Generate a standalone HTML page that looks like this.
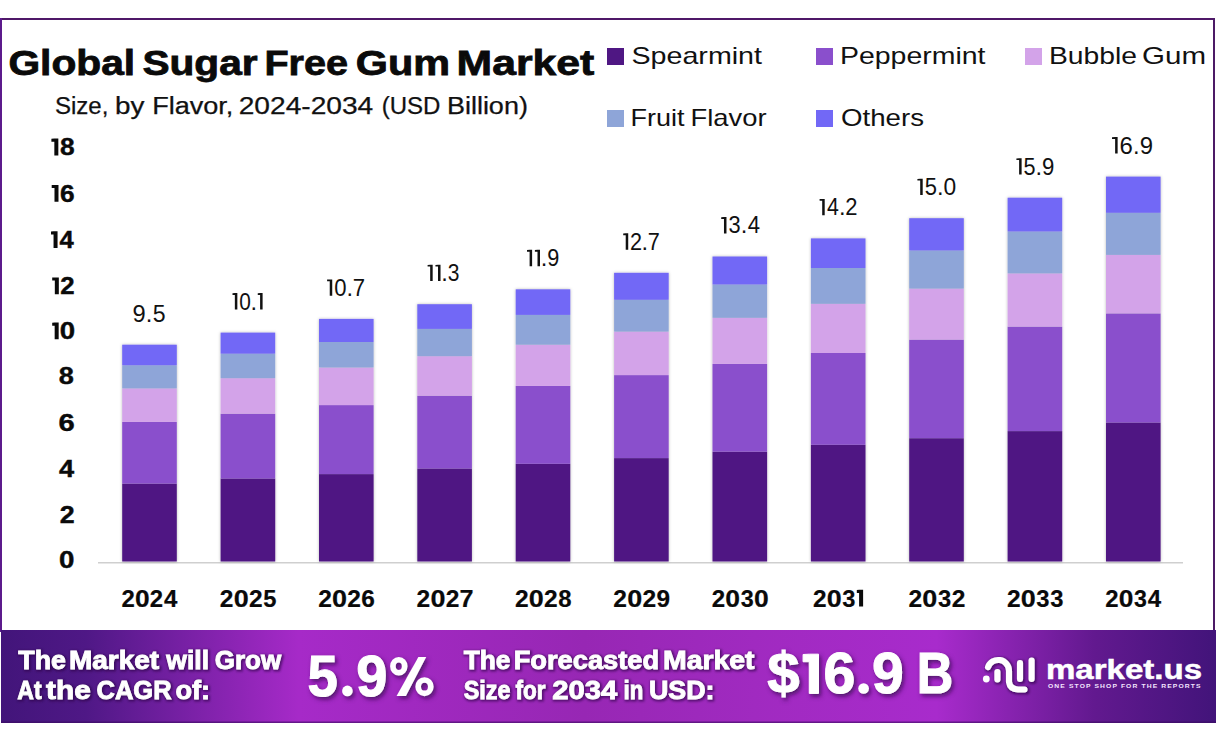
<!DOCTYPE html>
<html><head><meta charset="utf-8"><title>Global Sugar Free Gum Market</title>
<style>html,body{margin:0;padding:0;background:#fff;width:1216px;height:739px;overflow:hidden}svg,svg text{font-family:"Liberation Sans",sans-serif}</style>
</head><body>
<svg width="1216" height="739" viewBox="0 0 1216 739" style="display:block">
<defs>
<filter id="bs" x="-20%" y="-5%" width="140%" height="110%"><feDropShadow dx="0" dy="0" stdDeviation="1.6" flood-color="#000" flood-opacity="0.28"/></filter>
<filter id="ts" x="-10%" y="-20%" width="130%" height="160%"><feMorphology in="SourceAlpha" operator="dilate" radius="0.7" result="d"/><feGaussianBlur in="d" stdDeviation="1.1" result="b"/><feOffset in="b" dx="0.8" dy="1.2" result="o"/><feFlood flood-color="#2a0845" flood-opacity="0.6"/><feComposite in2="o" operator="in"/><feMerge><feMergeNode/><feMergeNode in="SourceGraphic"/></feMerge></filter>
<filter id="ts2" x="-10%" y="-20%" width="130%" height="160%"><feDropShadow dx="2" dy="2.5" stdDeviation="2.2" flood-color="#3a0a55" flood-opacity="0.8"/></filter>
<linearGradient id="bg" x1="0" y1="0" x2="1" y2="0">
<stop offset="0" stop-color="#42157a"/>
<stop offset="0.07" stop-color="#4f1886"/>
<stop offset="0.245" stop-color="#a62ac8"/>
<stop offset="0.48" stop-color="#9727b4"/>
<stop offset="0.62" stop-color="#a02ac0"/>
<stop offset="0.77" stop-color="#a82bcc"/>
<stop offset="0.90" stop-color="#62198f"/>
<stop offset="1" stop-color="#42147a"/>
</linearGradient>
</defs>
<rect x="0" y="0" width="1216" height="739" fill="#fff"/>
<rect x="0" y="18" width="1215" height="2" fill="#4f1868"/>
<rect x="0" y="18" width="2" height="614" fill="#5c1a8c"/>
<rect x="1213" y="18" width="2" height="614" fill="#4c1a66"/>
<text x="8.40" y="75.3" font-weight="bold" font-size="35" fill="#0a0a0a" stroke="#0a0a0a" stroke-width="0.8" textLength="126.80" lengthAdjust="spacingAndGlyphs">Global</text>
<text x="142.40" y="75.3" font-weight="bold" font-size="35" fill="#0a0a0a" stroke="#0a0a0a" stroke-width="0.8" textLength="115.20" lengthAdjust="spacingAndGlyphs">Sugar</text>
<text x="264.40" y="75.3" font-weight="bold" font-size="35" fill="#0a0a0a" stroke="#0a0a0a" stroke-width="0.8" textLength="83.60" lengthAdjust="spacingAndGlyphs">Free</text>
<text x="355.80" y="75.3" font-weight="bold" font-size="35" fill="#0a0a0a" stroke="#0a0a0a" stroke-width="0.8" textLength="94.20" lengthAdjust="spacingAndGlyphs">Gum</text>
<text x="456.60" y="75.3" font-weight="bold" font-size="35" fill="#0a0a0a" stroke="#0a0a0a" stroke-width="0.8" textLength="137.70" lengthAdjust="spacingAndGlyphs">Market</text>
<text x="54.90" y="113.6" font-size="23" fill="#111" stroke="#111" stroke-width="0.25" textLength="53.50" lengthAdjust="spacingAndGlyphs">Size,</text>
<text x="115.10" y="113.6" font-size="23" fill="#111" stroke="#111" stroke-width="0.25" textLength="29.40" lengthAdjust="spacingAndGlyphs">by</text>
<text x="152.20" y="113.6" font-size="23" fill="#111" stroke="#111" stroke-width="0.25" textLength="81.20" lengthAdjust="spacingAndGlyphs">Flavor,</text>
<text x="238.70" y="113.6" font-size="23" fill="#111" stroke="#111" stroke-width="0.25" textLength="134.60" lengthAdjust="spacingAndGlyphs">2024-2034</text>
<text x="381.70" y="113.6" font-size="23" fill="#111" stroke="#111" stroke-width="0.25" textLength="58.70" lengthAdjust="spacingAndGlyphs">(USD</text>
<text x="446.90" y="113.6" font-size="23" fill="#111" stroke="#111" stroke-width="0.25" textLength="81.00" lengthAdjust="spacingAndGlyphs">Billion)</text>
<rect x="607" y="48" width="17" height="17" fill="#4f1783"/>
<rect x="816" y="48" width="17" height="17" fill="#8a4fcc"/>
<rect x="1025" y="48" width="17" height="17" fill="#d3a3e9"/>
<rect x="607" y="110" width="17" height="17" fill="#8ea5d8"/>
<rect x="816" y="110" width="17" height="17" fill="#7268f6"/>
<text x="631.50" y="64.3" font-size="24" fill="#111" textLength="130.50" lengthAdjust="spacingAndGlyphs">Spearmint</text>
<text x="840.00" y="64.3" font-size="24" fill="#111" textLength="145.50" lengthAdjust="spacingAndGlyphs">Peppermint</text>
<text x="1049.00" y="64.3" font-size="24" fill="#111" textLength="88.00" lengthAdjust="spacingAndGlyphs">Bubble</text>
<text x="1142.00" y="64.3" font-size="24" fill="#111" textLength="64.00" lengthAdjust="spacingAndGlyphs">Gum</text>
<text x="630.50" y="126.3" font-size="24" fill="#111" textLength="54.00" lengthAdjust="spacingAndGlyphs">Fruit</text>
<text x="690.50" y="126.3" font-size="24" fill="#111" textLength="76.00" lengthAdjust="spacingAndGlyphs">Flavor</text>
<text x="841.00" y="126.3" font-size="24" fill="#111" textLength="83.00" lengthAdjust="spacingAndGlyphs">Others</text>
<path d="M54.34,138.60H58.34V155.40H54.34V141.80H51.40V138.80Z" fill="#0a0a0a"/>
<text transform="translate(67.30,155.40) scale(1.097,1)" x="-6.69" y="0"  font-weight="bold" font-size="24" fill="#0a0a0a" stroke="#0a0a0a" stroke-width="0.4">8</text>
<path d="M54.49,184.90H58.49V201.70H54.49V188.10H51.70V185.10Z" fill="#0a0a0a"/>
<text transform="translate(67.25,201.70) scale(1.095,1)" x="-6.68" y="0"  font-weight="bold" font-size="24" fill="#0a0a0a" stroke="#0a0a0a" stroke-width="0.4">6</text>
<path d="M53.55,231.20H57.55V248.00H53.55V234.40H51.00V231.40Z" fill="#0a0a0a"/>
<text transform="translate(66.74,248.00) scale(1.068,1)" x="-6.79" y="0"  font-weight="bold" font-size="24" fill="#0a0a0a" stroke="#0a0a0a" stroke-width="0.4">4</text>
<path d="M54.83,277.40H58.83V294.20H54.83V280.60H52.20V277.60Z" fill="#0a0a0a"/>
<text transform="translate(67.39,294.20) scale(1.074,1)" x="-6.61" y="0"  font-weight="bold" font-size="24" fill="#0a0a0a" stroke="#0a0a0a" stroke-width="0.4">2</text>
<path d="M54.67,322.50H58.67V339.30H54.67V325.70H52.20V322.70Z" fill="#0a0a0a"/>
<text transform="translate(67.53,339.30) scale(1.151,1)" x="-6.66" y="0"  font-weight="bold" font-size="24" fill="#0a0a0a" stroke="#0a0a0a" stroke-width="0.4">0</text>
<text transform="translate(66.20,384.40) scale(1.131,1)" x="-6.69" y="0"  font-weight="bold" font-size="24" fill="#0a0a0a" stroke="#0a0a0a" stroke-width="0.4">8</text>
<text transform="translate(66.55,430.60) scale(1.215,1)" x="-6.68" y="0"  font-weight="bold" font-size="24" fill="#0a0a0a" stroke="#0a0a0a" stroke-width="0.4">6</text>
<text transform="translate(66.80,476.90) scale(1.136,1)" x="-6.79" y="0"  font-weight="bold" font-size="24" fill="#0a0a0a" stroke="#0a0a0a" stroke-width="0.4">4</text>
<text transform="translate(67.15,522.70) scale(1.116,1)" x="-6.61" y="0"  font-weight="bold" font-size="24" fill="#0a0a0a" stroke="#0a0a0a" stroke-width="0.4">2</text>
<text transform="translate(66.70,568.00) scale(1.156,1)" x="-6.66" y="0"  font-weight="bold" font-size="24" fill="#0a0a0a" stroke="#0a0a0a" stroke-width="0.4">0</text>
<rect x="98" y="562" width="1085" height="1.5" fill="#cfcfcf"/>
<g filter="url(#bs)">
<rect x="122.2" y="483.6" width="54.6" height="77.9" fill="#4f1783"/>
<rect x="122.2" y="421.9" width="54.6" height="61.7" fill="#8a4fcc"/>
<rect x="122.2" y="388.4" width="54.6" height="33.5" fill="#d3a3e9"/>
<rect x="122.2" y="365.3" width="54.6" height="23.1" fill="#8ea5d8"/>
<rect x="122.2" y="344.7" width="54.6" height="20.6" fill="#7268f6"/>
</g>
<text transform="translate(139.17,321.60) scale(1.004,1)" x="-6.56" y="0"  font-size="23.6" fill="#111">9</text>
<text transform="translate(149.10,321.60) scale(1.000,1)" x="-3.28" y="0"  font-size="23.6" fill="#111">.</text>
<text transform="translate(159.03,321.60) scale(0.978,1)" x="-6.54" y="0"  font-size="23.6" fill="#111">5</text>
<text transform="translate(128.06,606.60) scale(0.997,1)" x="-6.61" y="0"  font-weight="bold" font-size="24" fill="#0a0a0a" stroke="#0a0a0a" stroke-width="0.2">2</text>
<text transform="translate(142.25,606.60) scale(1.096,1)" x="-6.66" y="0"  font-weight="bold" font-size="24" fill="#0a0a0a" stroke="#0a0a0a" stroke-width="0.2">0</text>
<text transform="translate(156.45,606.60) scale(0.997,1)" x="-6.61" y="0"  font-weight="bold" font-size="24" fill="#0a0a0a" stroke="#0a0a0a" stroke-width="0.2">2</text>
<text transform="translate(170.85,606.60) scale(1.004,1)" x="-6.79" y="0"  font-weight="bold" font-size="24" fill="#0a0a0a" stroke="#0a0a0a" stroke-width="0.2">4</text>
<g filter="url(#bs)">
<rect x="220.6" y="478.5" width="54.6" height="83.0" fill="#4f1783"/>
<rect x="220.6" y="413.7" width="54.6" height="64.8" fill="#8a4fcc"/>
<rect x="220.6" y="378.2" width="54.6" height="35.5" fill="#d3a3e9"/>
<rect x="220.6" y="353.7" width="54.6" height="24.5" fill="#8ea5d8"/>
<rect x="220.6" y="332.6" width="54.6" height="21.1" fill="#7268f6"/>
</g>
<path d="M234.85,293.10H237.35V309.50H234.85V295.00H232.50V293.30Z" fill="#111"/>
<text transform="translate(244.99,309.50) scale(0.884,1)" x="-6.56" y="0"  font-size="23.6" fill="#111">0</text>
<text transform="translate(253.86,309.50) scale(1.000,1)" x="-3.28" y="0"  font-size="23.6" fill="#111">.</text>
<path d="M260.10,293.10H262.60V309.50H260.10V295.00H257.75V293.30Z" fill="#111"/>
<text transform="translate(226.59,606.60) scale(1.023,1)" x="-6.61" y="0"  font-weight="bold" font-size="24" fill="#0a0a0a" stroke="#0a0a0a" stroke-width="0.2">2</text>
<text transform="translate(241.15,606.60) scale(1.124,1)" x="-6.66" y="0"  font-weight="bold" font-size="24" fill="#0a0a0a" stroke="#0a0a0a" stroke-width="0.2">0</text>
<text transform="translate(255.72,606.60) scale(1.023,1)" x="-6.61" y="0"  font-weight="bold" font-size="24" fill="#0a0a0a" stroke="#0a0a0a" stroke-width="0.2">2</text>
<text transform="translate(269.77,606.60) scale(0.989,1)" x="-6.71" y="0"  font-weight="bold" font-size="24" fill="#0a0a0a" stroke="#0a0a0a" stroke-width="0.2">5</text>
<g filter="url(#bs)">
<rect x="319.0" y="474.1" width="54.6" height="87.4" fill="#4f1783"/>
<rect x="319.0" y="405.1" width="54.6" height="69.0" fill="#8a4fcc"/>
<rect x="319.0" y="367.5" width="54.6" height="37.6" fill="#d3a3e9"/>
<rect x="319.0" y="342.0" width="54.6" height="25.5" fill="#8ea5d8"/>
<rect x="319.0" y="318.9" width="54.6" height="23.1" fill="#7268f6"/>
</g>
<path d="M329.74,279.40H332.24V295.80H329.74V281.30H327.10V279.60Z" fill="#111"/>
<text transform="translate(340.32,295.80) scale(0.936,1)" x="-6.56" y="0"  font-size="23.6" fill="#111">0</text>
<text transform="translate(349.70,295.80) scale(1.000,1)" x="-3.28" y="0"  font-size="23.6" fill="#111">.</text>
<text transform="translate(358.86,295.80) scale(0.940,1)" x="-6.57" y="0"  font-size="23.6" fill="#111">7</text>
<text transform="translate(324.97,606.60) scale(1.023,1)" x="-6.61" y="0"  font-weight="bold" font-size="24" fill="#0a0a0a" stroke="#0a0a0a" stroke-width="0.2">2</text>
<text transform="translate(339.53,606.60) scale(1.124,1)" x="-6.66" y="0"  font-weight="bold" font-size="24" fill="#0a0a0a" stroke="#0a0a0a" stroke-width="0.2">0</text>
<text transform="translate(354.10,606.60) scale(1.023,1)" x="-6.61" y="0"  font-weight="bold" font-size="24" fill="#0a0a0a" stroke="#0a0a0a" stroke-width="0.2">2</text>
<text transform="translate(368.15,606.60) scale(1.018,1)" x="-6.68" y="0"  font-weight="bold" font-size="24" fill="#0a0a0a" stroke="#0a0a0a" stroke-width="0.2">6</text>
<g filter="url(#bs)">
<rect x="417.3" y="468.5" width="54.6" height="93.0" fill="#4f1783"/>
<rect x="417.3" y="395.7" width="54.6" height="72.8" fill="#8a4fcc"/>
<rect x="417.3" y="356.2" width="54.6" height="39.5" fill="#d3a3e9"/>
<rect x="417.3" y="328.9" width="54.6" height="27.3" fill="#8ea5d8"/>
<rect x="417.3" y="304.2" width="54.6" height="24.7" fill="#7268f6"/>
</g>
<path d="M430.17,264.70H432.67V281.10H430.17V266.60H427.60V264.90Z" fill="#111"/>
<path d="M438.02,264.70H440.52V281.10H438.02V266.60H435.44V264.90Z" fill="#111"/>
<text transform="translate(444.58,281.10) scale(1.000,1)" x="-3.28" y="0"  font-size="23.6" fill="#111">.</text>
<text transform="translate(453.62,281.10) scale(0.891,1)" x="-6.49" y="0"  font-size="23.6" fill="#111">3</text>
<text transform="translate(423.35,606.60) scale(1.023,1)" x="-6.61" y="0"  font-weight="bold" font-size="24" fill="#0a0a0a" stroke="#0a0a0a" stroke-width="0.2">2</text>
<text transform="translate(437.91,606.60) scale(1.124,1)" x="-6.66" y="0"  font-weight="bold" font-size="24" fill="#0a0a0a" stroke="#0a0a0a" stroke-width="0.2">0</text>
<text transform="translate(452.48,606.60) scale(1.023,1)" x="-6.61" y="0"  font-weight="bold" font-size="24" fill="#0a0a0a" stroke="#0a0a0a" stroke-width="0.2">2</text>
<text transform="translate(466.53,606.60) scale(1.049,1)" x="-6.66" y="0"  font-weight="bold" font-size="24" fill="#0a0a0a" stroke="#0a0a0a" stroke-width="0.2">7</text>
<g filter="url(#bs)">
<rect x="515.7" y="463.8" width="54.6" height="97.7" fill="#4f1783"/>
<rect x="515.7" y="385.9" width="54.6" height="77.9" fill="#8a4fcc"/>
<rect x="515.7" y="344.7" width="54.6" height="41.2" fill="#d3a3e9"/>
<rect x="515.7" y="314.9" width="54.6" height="29.8" fill="#8ea5d8"/>
<rect x="515.7" y="289.3" width="54.6" height="25.6" fill="#7268f6"/>
</g>
<path d="M529.61,249.80H532.11V266.20H529.61V251.70H527.00V250.00Z" fill="#111"/>
<path d="M537.50,249.80H540.00V266.20H537.50V251.70H534.89V250.00Z" fill="#111"/>
<text transform="translate(544.09,266.20) scale(1.000,1)" x="-3.28" y="0"  font-size="23.6" fill="#111">.</text>
<text transform="translate(553.19,266.20) scale(0.920,1)" x="-6.56" y="0"  font-size="23.6" fill="#111">9</text>
<text transform="translate(521.73,606.60) scale(1.023,1)" x="-6.61" y="0"  font-weight="bold" font-size="24" fill="#0a0a0a" stroke="#0a0a0a" stroke-width="0.2">2</text>
<text transform="translate(536.29,606.60) scale(1.124,1)" x="-6.66" y="0"  font-weight="bold" font-size="24" fill="#0a0a0a" stroke="#0a0a0a" stroke-width="0.2">0</text>
<text transform="translate(550.86,606.60) scale(1.023,1)" x="-6.61" y="0"  font-weight="bold" font-size="24" fill="#0a0a0a" stroke="#0a0a0a" stroke-width="0.2">2</text>
<text transform="translate(564.91,606.60) scale(0.997,1)" x="-6.69" y="0"  font-weight="bold" font-size="24" fill="#0a0a0a" stroke="#0a0a0a" stroke-width="0.2">8</text>
<g filter="url(#bs)">
<rect x="614.1" y="458.1" width="54.6" height="103.4" fill="#4f1783"/>
<rect x="614.1" y="375.1" width="54.6" height="83.0" fill="#8a4fcc"/>
<rect x="614.1" y="331.6" width="54.6" height="43.5" fill="#d3a3e9"/>
<rect x="614.1" y="299.8" width="54.6" height="31.8" fill="#8ea5d8"/>
<rect x="614.1" y="272.8" width="54.6" height="27.0" fill="#7268f6"/>
</g>
<path d="M625.72,233.30H628.22V249.70H625.72V235.20H623.20V233.50Z" fill="#111"/>
<text transform="translate(635.89,249.70) scale(0.917,1)" x="-6.56" y="0"  font-size="23.6" fill="#111">2</text>
<text transform="translate(644.83,249.70) scale(1.000,1)" x="-3.28" y="0"  font-size="23.6" fill="#111">.</text>
<text transform="translate(653.77,249.70) scale(0.919,1)" x="-6.57" y="0"  font-size="23.6" fill="#111">7</text>
<text transform="translate(620.11,606.60) scale(1.023,1)" x="-6.61" y="0"  font-weight="bold" font-size="24" fill="#0a0a0a" stroke="#0a0a0a" stroke-width="0.2">2</text>
<text transform="translate(634.67,606.60) scale(1.124,1)" x="-6.66" y="0"  font-weight="bold" font-size="24" fill="#0a0a0a" stroke="#0a0a0a" stroke-width="0.2">0</text>
<text transform="translate(649.24,606.60) scale(1.023,1)" x="-6.61" y="0"  font-weight="bold" font-size="24" fill="#0a0a0a" stroke="#0a0a0a" stroke-width="0.2">2</text>
<text transform="translate(663.29,606.60) scale(1.016,1)" x="-6.64" y="0"  font-weight="bold" font-size="24" fill="#0a0a0a" stroke="#0a0a0a" stroke-width="0.2">9</text>
<g filter="url(#bs)">
<rect x="712.5" y="451.7" width="54.6" height="109.8" fill="#4f1783"/>
<rect x="712.5" y="363.9" width="54.6" height="87.8" fill="#8a4fcc"/>
<rect x="712.5" y="317.8" width="54.6" height="46.1" fill="#d3a3e9"/>
<rect x="712.5" y="284.5" width="54.6" height="33.3" fill="#8ea5d8"/>
<rect x="712.5" y="256.5" width="54.6" height="28.0" fill="#7268f6"/>
</g>
<path d="M723.98,217.00H726.48V233.40H723.98V218.90H721.20V217.20Z" fill="#111"/>
<text transform="translate(734.54,233.40) scale(0.926,1)" x="-6.49" y="0"  font-size="23.6" fill="#111">3</text>
<text transform="translate(743.94,233.40) scale(1.000,1)" x="-3.28" y="0"  font-size="23.6" fill="#111">.</text>
<text transform="translate(753.73,233.40) scale(0.936,1)" x="-6.49" y="0"  font-size="23.6" fill="#111">4</text>
<text transform="translate(718.38,606.60) scale(1.004,1)" x="-6.61" y="0"  font-weight="bold" font-size="24" fill="#0a0a0a" stroke="#0a0a0a" stroke-width="0.2">2</text>
<text transform="translate(732.68,606.60) scale(1.104,1)" x="-6.66" y="0"  font-weight="bold" font-size="24" fill="#0a0a0a" stroke="#0a0a0a" stroke-width="0.2">0</text>
<text transform="translate(746.98,606.60) scale(0.972,1)" x="-6.52" y="0"  font-weight="bold" font-size="24" fill="#0a0a0a" stroke="#0a0a0a" stroke-width="0.2">3</text>
<text transform="translate(761.28,606.60) scale(1.104,1)" x="-6.66" y="0"  font-weight="bold" font-size="24" fill="#0a0a0a" stroke="#0a0a0a" stroke-width="0.2">0</text>
<g filter="url(#bs)">
<rect x="810.9" y="444.8" width="54.6" height="116.7" fill="#4f1783"/>
<rect x="810.9" y="353.0" width="54.6" height="91.8" fill="#8a4fcc"/>
<rect x="810.9" y="303.8" width="54.6" height="49.2" fill="#d3a3e9"/>
<rect x="810.9" y="268.0" width="54.6" height="35.8" fill="#8ea5d8"/>
<rect x="810.9" y="238.4" width="54.6" height="29.6" fill="#7268f6"/>
</g>
<path d="M822.20,198.90H824.70V215.30H822.20V200.80H819.60V199.10Z" fill="#111"/>
<text transform="translate(832.86,215.30) scale(0.904,1)" x="-6.49" y="0"  font-size="23.6" fill="#111">4</text>
<text transform="translate(842.31,215.30) scale(1.000,1)" x="-3.28" y="0"  font-size="23.6" fill="#111">.</text>
<text transform="translate(851.39,215.30) scale(0.931,1)" x="-6.56" y="0"  font-size="23.6" fill="#111">2</text>
<text transform="translate(819.69,606.60) scale(1.018,1)" x="-6.61" y="0"  font-weight="bold" font-size="24" fill="#0a0a0a" stroke="#0a0a0a" stroke-width="0.2">2</text>
<text transform="translate(834.20,606.60) scale(1.120,1)" x="-6.66" y="0"  font-weight="bold" font-size="24" fill="#0a0a0a" stroke="#0a0a0a" stroke-width="0.2">0</text>
<text transform="translate(848.71,606.60) scale(0.986,1)" x="-6.52" y="0"  font-weight="bold" font-size="24" fill="#0a0a0a" stroke="#0a0a0a" stroke-width="0.2">3</text>
<path d="M859.11,589.80H863.11V606.60H859.11V593.00H856.82V590.00Z" fill="#0a0a0a"/>
<g filter="url(#bs)">
<rect x="909.2" y="438.2" width="54.6" height="123.3" fill="#4f1783"/>
<rect x="909.2" y="339.6" width="54.6" height="98.6" fill="#8a4fcc"/>
<rect x="909.2" y="288.6" width="54.6" height="51.0" fill="#d3a3e9"/>
<rect x="909.2" y="250.5" width="54.6" height="38.1" fill="#8ea5d8"/>
<rect x="909.2" y="218.2" width="54.6" height="32.3" fill="#7268f6"/>
</g>
<path d="M920.20,178.70H922.70V195.10H920.20V180.60H917.40V178.90Z" fill="#111"/>
<text transform="translate(930.81,195.10) scale(0.931,1)" x="-6.54" y="0"  font-size="23.6" fill="#111">5</text>
<text transform="translate(940.26,195.10) scale(1.000,1)" x="-3.28" y="0"  font-size="23.6" fill="#111">.</text>
<text transform="translate(949.95,195.10) scale(0.966,1)" x="-6.56" y="0"  font-size="23.6" fill="#111">0</text>
<text transform="translate(915.25,606.60) scale(1.023,1)" x="-6.61" y="0"  font-weight="bold" font-size="24" fill="#0a0a0a" stroke="#0a0a0a" stroke-width="0.2">2</text>
<text transform="translate(929.81,606.60) scale(1.124,1)" x="-6.66" y="0"  font-weight="bold" font-size="24" fill="#0a0a0a" stroke="#0a0a0a" stroke-width="0.2">0</text>
<text transform="translate(944.38,606.60) scale(0.990,1)" x="-6.52" y="0"  font-weight="bold" font-size="24" fill="#0a0a0a" stroke="#0a0a0a" stroke-width="0.2">3</text>
<text transform="translate(958.43,606.60) scale(1.023,1)" x="-6.61" y="0"  font-weight="bold" font-size="24" fill="#0a0a0a" stroke="#0a0a0a" stroke-width="0.2">2</text>
<g filter="url(#bs)">
<rect x="1007.6" y="431.1" width="54.6" height="130.4" fill="#4f1783"/>
<rect x="1007.6" y="326.6" width="54.6" height="104.5" fill="#8a4fcc"/>
<rect x="1007.6" y="273.4" width="54.6" height="53.2" fill="#d3a3e9"/>
<rect x="1007.6" y="231.5" width="54.6" height="41.9" fill="#8ea5d8"/>
<rect x="1007.6" y="197.7" width="54.6" height="33.8" fill="#7268f6"/>
</g>
<path d="M1019.12,158.20H1021.62V174.60H1019.12V160.10H1016.40V158.40Z" fill="#111"/>
<text transform="translate(1029.59,174.60) scale(0.916,1)" x="-6.54" y="0"  font-size="23.6" fill="#111">5</text>
<text transform="translate(1038.88,174.60) scale(1.000,1)" x="-3.28" y="0"  font-size="23.6" fill="#111">.</text>
<text transform="translate(1048.18,174.60) scale(0.940,1)" x="-6.56" y="0"  font-size="23.6" fill="#111">9</text>
<text transform="translate(1013.63,606.60) scale(1.023,1)" x="-6.61" y="0"  font-weight="bold" font-size="24" fill="#0a0a0a" stroke="#0a0a0a" stroke-width="0.2">2</text>
<text transform="translate(1028.19,606.60) scale(1.124,1)" x="-6.66" y="0"  font-weight="bold" font-size="24" fill="#0a0a0a" stroke="#0a0a0a" stroke-width="0.2">0</text>
<text transform="translate(1042.76,606.60) scale(0.990,1)" x="-6.52" y="0"  font-weight="bold" font-size="24" fill="#0a0a0a" stroke="#0a0a0a" stroke-width="0.2">3</text>
<text transform="translate(1056.81,606.60) scale(0.990,1)" x="-6.52" y="0"  font-weight="bold" font-size="24" fill="#0a0a0a" stroke="#0a0a0a" stroke-width="0.2">3</text>
<g filter="url(#bs)">
<rect x="1106.0" y="422.5" width="54.6" height="139.0" fill="#4f1783"/>
<rect x="1106.0" y="313.4" width="54.6" height="109.1" fill="#8a4fcc"/>
<rect x="1106.0" y="254.9" width="54.6" height="58.5" fill="#d3a3e9"/>
<rect x="1106.0" y="212.8" width="54.6" height="42.1" fill="#8ea5d8"/>
<rect x="1106.0" y="176.6" width="54.6" height="36.2" fill="#7268f6"/>
</g>
<path d="M1115.13,137.10H1117.63V153.50H1115.13V139.00H1112.00V137.30Z" fill="#111"/>
<text transform="translate(1126.22,153.50) scale(1.015,1)" x="-6.64" y="0"  font-size="23.6" fill="#111">6</text>
<text transform="translate(1136.25,153.50) scale(1.000,1)" x="-3.28" y="0"  font-size="23.6" fill="#111">.</text>
<text transform="translate(1146.28,153.50) scale(1.014,1)" x="-6.56" y="0"  font-size="23.6" fill="#111">9</text>
<text transform="translate(1111.86,606.60) scale(0.997,1)" x="-6.61" y="0"  font-weight="bold" font-size="24" fill="#0a0a0a" stroke="#0a0a0a" stroke-width="0.2">2</text>
<text transform="translate(1126.05,606.60) scale(1.096,1)" x="-6.66" y="0"  font-weight="bold" font-size="24" fill="#0a0a0a" stroke="#0a0a0a" stroke-width="0.2">0</text>
<text transform="translate(1140.25,606.60) scale(0.965,1)" x="-6.52" y="0"  font-weight="bold" font-size="24" fill="#0a0a0a" stroke="#0a0a0a" stroke-width="0.2">3</text>
<text transform="translate(1154.65,606.60) scale(1.004,1)" x="-6.79" y="0"  font-weight="bold" font-size="24" fill="#0a0a0a" stroke="#0a0a0a" stroke-width="0.2">4</text>
<rect x="1" y="630" width="1215" height="93" fill="url(#bg)"/>
<rect x="1" y="721.5" width="1215" height="1.5" fill="#3a0c60" opacity="0.6"/>
<g filter="url(#ts)" fill="#fff" stroke="#fff" stroke-width="0.8"  font-weight="bold">
<text x="18.30" y="669.2" font-weight="bold" font-size="25.5" fill="#fff" stroke="#fff" stroke-width="0.8" textLength="47.60" lengthAdjust="spacingAndGlyphs">The</text>
<text x="68.90" y="669.2" font-weight="bold" font-size="25.5" fill="#fff" stroke="#fff" stroke-width="0.8" textLength="90.20" lengthAdjust="spacingAndGlyphs">Market</text>
<text x="166.30" y="669.2" font-weight="bold" font-size="25.5" fill="#fff" stroke="#fff" stroke-width="0.8" textLength="42.70" lengthAdjust="spacingAndGlyphs">will</text>
<text x="214.70" y="669.2" font-weight="bold" font-size="25.5" fill="#fff" stroke="#fff" stroke-width="0.8" textLength="66.40" lengthAdjust="spacingAndGlyphs">Grow</text>
<text x="17.30" y="698.8" font-weight="bold" font-size="25.5" fill="#fff" stroke="#fff" stroke-width="0.8" textLength="24.30" lengthAdjust="spacingAndGlyphs">At</text>
<text x="46.10" y="698.8" font-weight="bold" font-size="25.5" fill="#fff" stroke="#fff" stroke-width="0.8" textLength="44.70" lengthAdjust="spacingAndGlyphs">the</text>
<text x="96.50" y="698.8" font-weight="bold" font-size="25.5" fill="#fff" stroke="#fff" stroke-width="0.8" textLength="75.10" lengthAdjust="spacingAndGlyphs">CAGR</text>
<text x="175.40" y="698.8" font-weight="bold" font-size="25.5" fill="#fff" stroke="#fff" stroke-width="0.8" textLength="34.60" lengthAdjust="spacingAndGlyphs">of:</text>
<text x="463.70" y="669.4" font-weight="bold" font-size="25.5" fill="#fff" stroke="#fff" stroke-width="0.8" textLength="46.70" lengthAdjust="spacingAndGlyphs">The</text>
<text x="513.70" y="669.4" font-weight="bold" font-size="25.5" fill="#fff" stroke="#fff" stroke-width="0.8" textLength="145.40" lengthAdjust="spacingAndGlyphs">Forecasted</text>
<text x="663.00" y="669.4" font-weight="bold" font-size="25.5" fill="#fff" stroke="#fff" stroke-width="0.8" textLength="91.50" lengthAdjust="spacingAndGlyphs">Market</text>
<text x="463.70" y="699" font-weight="bold" font-size="25.5" fill="#fff" stroke="#fff" stroke-width="0.8" textLength="46.70" lengthAdjust="spacingAndGlyphs">Size</text>
<text x="515.60" y="699" font-weight="bold" font-size="25.5" fill="#fff" stroke="#fff" stroke-width="0.8" textLength="29.90" lengthAdjust="spacingAndGlyphs">for</text>
<text x="552.30" y="699" font-weight="bold" font-size="25.5" fill="#fff" stroke="#fff" stroke-width="0.8" textLength="65.00" lengthAdjust="spacingAndGlyphs">2034</text>
<text x="623.50" y="699" font-weight="bold" font-size="25.5" fill="#fff" stroke="#fff" stroke-width="0.8" textLength="19.70" lengthAdjust="spacingAndGlyphs">in</text>
<text x="649.00" y="699" font-weight="bold" font-size="25.5" fill="#fff" stroke="#fff" stroke-width="0.8" textLength="65.50" lengthAdjust="spacingAndGlyphs">USD:</text>
</g>
<g filter="url(#ts2)">
<text transform="translate(322.75,695.50) scale(0.947,1)" x="-16.07" y="0"  font-weight="bold" font-size="57.5" fill="#fff" stroke="#fff" stroke-width="1">5</text>
<text transform="translate(371.65,695.50) scale(0.973,1)" x="-15.92" y="0"  font-weight="bold" font-size="57.5" fill="#fff" stroke="#fff" stroke-width="1">9</text>
<circle cx="347.4" cy="690.9" r="5.3" fill="#fff"/>
<ellipse cx="398.8" cy="666.3" rx="5.9" ry="6.5" fill="none" stroke="#fff" stroke-width="5.6"/>
<ellipse cx="424.5" cy="686.7" rx="6.3" ry="6.7" fill="none" stroke="#fff" stroke-width="5.6"/>
<polygon points="418.4,657.1 426.2,657.1 405.9,695.9 396.6,695.9" fill="#fff"/>
<text transform="translate(783.30,693.40) scale(1.031,1)" x="-15.68" y="0"  font-weight="bold" font-size="56.5" fill="#fff" stroke="#fff" stroke-width="1">$</text>
<path d="M809.30,654.20H818.50V693.40H809.30V661.70H803.10V654.50Z" fill="#fff" stroke="#fff" stroke-width="1"/>
<text transform="translate(839.35,693.40) scale(1.014,1)" x="-15.73" y="0"  font-weight="bold" font-size="56.5" fill="#fff" stroke="#fff" stroke-width="1">6</text>
<text transform="translate(887.80,693.40) scale(1.009,1)" x="-15.64" y="0"  font-weight="bold" font-size="56.5" fill="#fff" stroke="#fff" stroke-width="1">9</text>
<text transform="translate(935.50,693.40) scale(0.894,1)" x="-21.01" y="0"  font-weight="bold" font-size="56.5" fill="#fff" stroke="#fff" stroke-width="1">B</text>
<circle cx="863.6" cy="688.5" r="5.3" fill="#fff"/>
</g>
<g fill="none" stroke="#fff" stroke-width="6.1" stroke-linecap="round" filter="url(#ts)">
<path d="M988,667.2 A10.8,10.8 0 0 1 1009,670.6 L1009,682 Q1010,689 1018,689.5 L1024.5,689.5"/>
<line x1="997.4" y1="672" x2="997.4" y2="679.5"/>
<line x1="1020" y1="663" x2="1020" y2="679"/>
<line x1="1031.6" y1="660.5" x2="1031.6" y2="679"/>
</g>
<circle cx="986.3" cy="679" r="3.4" fill="#fff"/>
<text x="1046" y="678.6"  font-weight="bold" font-size="27.5" fill="#fff" stroke="#fff" stroke-width="0.5" textLength="156" lengthAdjust="spacingAndGlyphs">market.us</text>
<text x="1048" y="688.3"  font-weight="bold" font-size="6" fill="#f4e6ff" letter-spacing="1" textLength="153.6" lengthAdjust="spacingAndGlyphs">ONE STOP SHOP FOR THE REPORTS</text>
</svg>
</body></html>
